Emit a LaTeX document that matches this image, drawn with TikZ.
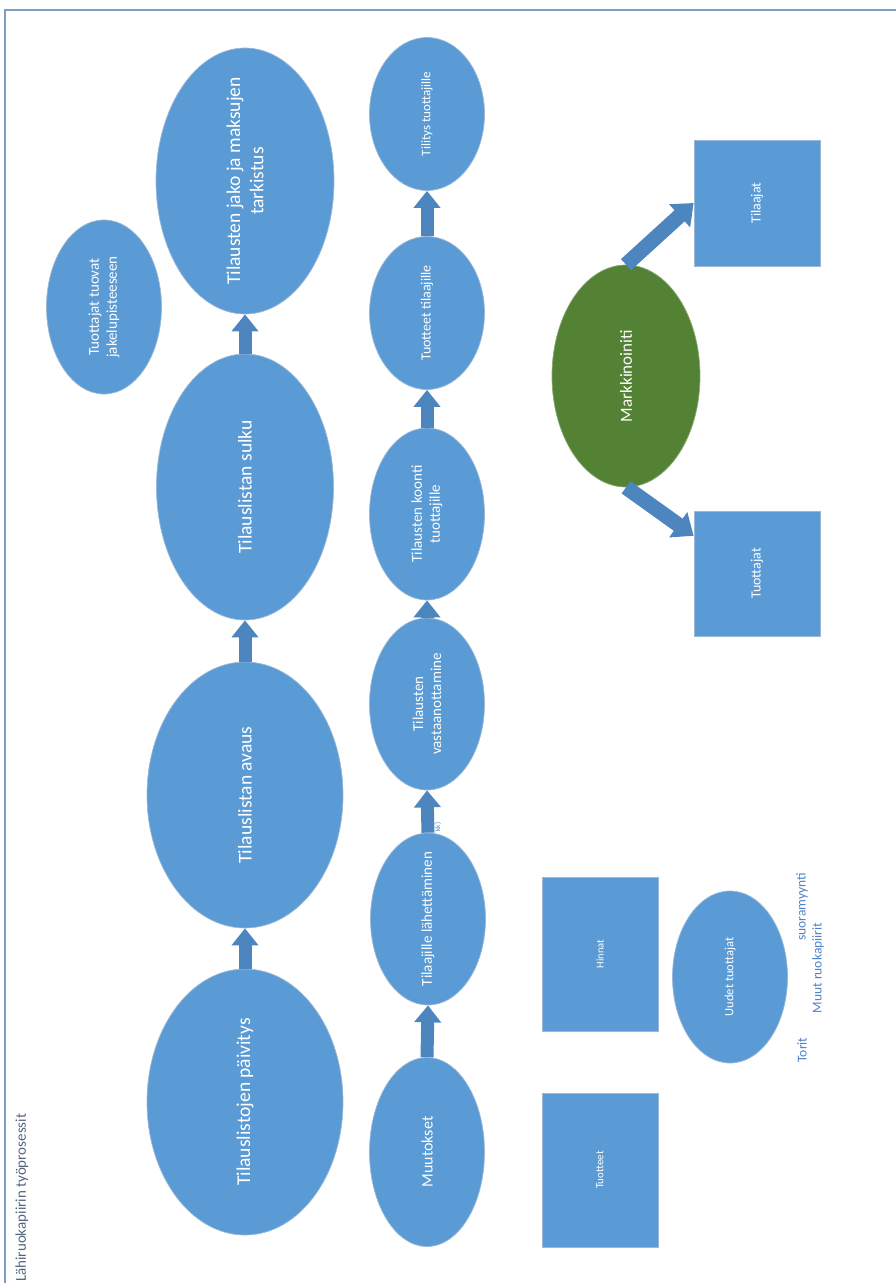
\documentclass[tikz,border=0pt]{standalone}
\usepackage{fontspec}
\setmainfont{Carlito}
\usetikzlibrary{shapes.geometric,arrows.meta,calc}

\definecolor{nodeblue}{HTML}{5B9BD5}
\definecolor{nodeedge}{HTML}{9DB8D6}
\definecolor{arrowblue}{HTML}{4D86BF}
\definecolor{marketgreen}{HTML}{548235}
\definecolor{frameblue}{HTML}{7F9CC4}
\definecolor{notetext}{HTML}{4F82C8}
\definecolor{titletext}{HTML}{53657F}

\newcommand{\fsz}[1]{\fontsize{#1pt}{\dimexpr #1pt*6/5\relax}\selectfont}

\tikzset{
  blob/.style={ellipse, fill=nodeblue, draw=nodeedge, line width=0.7pt, inner sep=0pt},
  greenblob/.style={blob, fill=marketgreen, draw=marketgreen!70!white},
  box/.style={rectangle, fill=nodeblue, draw=nodeedge, line width=0.7pt, inner sep=0pt},
  caption/.style={rotate=90, text=white, align=center, inner sep=0pt},
  flow/.style={draw=arrowblue, line width=13pt, -{Triangle[width=26pt,length=17pt]}},
  bigflow/.style={draw=arrowblue, line width=15pt, -{Triangle[width=30pt,length=19pt]}},
  note/.style={rotate=90, text=notetext, inner sep=0pt},
}

\begin{document}
\begin{tikzpicture}[x=1pt, y=-1pt]
\useasboundingbox (0,0) rectangle (896,1283);

% page frame
\draw[frameblue, line width=1.4pt] (5,1283) -- (5,10) -- (896,10);

% title
\node[rotate=90, text=titletext, font=\fsz{15}, anchor=west, inner sep=0pt] (title) at (22,1282) {Lähiruokapiirin työprosessit};

% main column
\node[blob, minimum width=196, minimum height=266,
  label={[caption, font=\fsz{19.5}]center:Tilauslistojen päivitys}] (paivitys) at (245,1102) {};
\node[blob, minimum width=196, minimum height=266,
  label={[caption, font=\fsz{19.5}]center:Tilauslistan avaus}] (avaus) at (245,795) {};
\node[blob, minimum width=177, minimum height=266,
  label={[caption, font=\fsz{19.5}]center:Tilauslistan sulku}] (sulku) at (245,487) {};
\node[blob, minimum width=178, minimum height=266,
  label={[caption, font=\fsz{19.5}]center:Tilausten jako ja maksujen\\tarkistus}] (jako) at (245,181) {};
\node[blob, minimum width=115, minimum height=174,
  label={[caption, font=\fsz{15}]center:Tuottajat tuovat\\jakelupisteeseen}] (tuovat) at (104,307) {};

\draw[flow] (paivitys.north) -- (avaus.south);
\draw[flow] (avaus.north) -- (sulku.south);
\draw[flow] (sulku.north) -- (jako.south);

% second column
\node[blob, minimum width=115, minimum height=189,
  label={[caption, font=\fsz{16}]center:Muutokset}] (muutokset) at (427,1152) {};
\node[blob, minimum width=115, minimum height=172,
  label={[caption, font=\fsz{15}]center:Tilaajille lähettäminen}] (lahetys) at (428,919) {};
\node[blob, minimum width=115, minimum height=172,
  label={[caption, font=\fsz{15}]center:Tilausten\\vastaanottamine}] (vastaanotto) at (427,704) {};
\node[blob, minimum width=115, minimum height=172,
  label={[caption, font=\fsz{15}]center:Tilausten koonti\\tuottajille}] (koonti) at (427,514) {};
\node[blob, minimum width=115, minimum height=153,
  label={[caption, font=\fsz{14}]center:Tuotteet tilaajille}] (tuotteettil) at (427,313) {};
\node[blob, minimum width=115, minimum height=153,
  label={[caption, font=\fsz{13}]center:Tilitys tuottajille}] (tilitys) at (427,114) {};

\draw[flow] (muutokset.north) -- (lahetys.south);
\draw[flow] (lahetys.north) -- (vastaanotto.south);
\draw[flow] (vastaanotto.north) -- (koonti.south);
\draw[flow] (koonti.north) -- (tuotteettil.south);
\draw[flow] (tuotteettil.north) -- (tilitys.south);

\node[note, font=\fsz{7}] (kk) at (438,827) {kk)};

% marketing
\node[greenblob, minimum width=148, minimum height=222,
  label={[caption, font=\fsz{17}]center:Markkinoiniti}] (markkinointi) at (626,376) {};
\node[box, minimum width=126, minimum height=126,
  label={[caption, font=\fsz{14}]center:Tilaajat}] (tilaajat) at (757,203) {};
\node[box, minimum width=126, minimum height=125,
  label={[caption, font=\fsz{14}]center:Tuottajat}] (tuottajat) at (757,573.5) {};

\coordinate (tuottajatin) at ($(tuottajat.north west)!0.2!(tuottajat.south west)$);
\draw[bigflow] (markkinointi.north) -- (tilaajat.west);
\draw[bigflow] (markkinointi.south) -- (tuottajatin);

% products, prices and new producers
\node[box, minimum width=116, minimum height=154,
  label={[caption, font=\fsz{10.5}]center:Hinnat}] (hinnat) at (600,954) {};
\node[box, minimum width=116, minimum height=154,
  label={[caption, font=\fsz{11}]center:Tuotteet}] (tuotteet) at (600,1170) {};
\node[blob, minimum width=115, minimum height=172,
  label={[caption, font=\fsz{12.5}]center:Uudet tuottajat}] (uudet) at (730,977) {};

\node[note, font=\fsz{13.5}] (torit) at (802,1050) {Torit};
\node[note, font=\fsz{13.5}] (suoramyynti) at (802,907) {suoramyynti};
\node[note, font=\fsz{13.5}] (muut) at (818,968) {Muut ruokapiirit};
\end{tikzpicture}
\end{document}
